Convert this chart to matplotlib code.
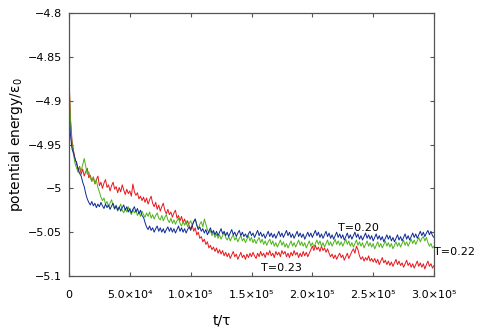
import numpy as np
import matplotlib
matplotlib.use("Agg")
import matplotlib.pyplot as plt

# potential energy traces (one value every 1250 tau)
red_T023 = [
    -4.872, -4.921, -4.946, -4.957, -4.968, -4.970, -4.979, -4.975, -4.984, -4.978,
    -4.986, -4.981, -4.977, -4.988, -4.985, -4.992, -4.987, -4.995, -4.990, -4.986,
    -4.997, -4.993, -5.000, -4.994, -4.990, -4.999, -4.996, -5.003, -4.997, -4.993,
    -5.001, -4.998, -5.005, -4.999, -5.004, -4.996, -5.002, -5.007, -5.001, -5.006,
    -5.003, -5.009, -4.995, -5.004, -5.008, -5.005, -5.012, -5.009, -5.014, -5.010,
    -5.016, -5.011, -5.018, -5.013, -5.009, -5.017, -5.021, -5.016, -5.024, -5.019,
    -5.026, -5.021, -5.017, -5.025, -5.029, -5.024, -5.030, -5.027, -5.033, -5.028,
    -5.025, -5.034, -5.031, -5.037, -5.032, -5.039, -5.035, -5.041, -5.037, -5.043,
    -5.046, -5.042, -5.049, -5.045, -5.053, -5.050, -5.057, -5.055, -5.061, -5.058,
    -5.064, -5.061, -5.068, -5.065, -5.070, -5.067, -5.072, -5.068, -5.074, -5.070,
    -5.075, -5.071, -5.077, -5.073, -5.078, -5.074, -5.080, -5.076, -5.072, -5.078,
    -5.075, -5.081, -5.077, -5.073, -5.079, -5.076, -5.081, -5.075, -5.079, -5.074,
    -5.078, -5.073, -5.077, -5.080, -5.074, -5.078, -5.072, -5.077, -5.074, -5.079,
    -5.073, -5.076, -5.071, -5.077, -5.074, -5.079, -5.072, -5.076, -5.073, -5.078,
    -5.071, -5.075, -5.072, -5.078, -5.074, -5.079, -5.073, -5.077, -5.071, -5.076,
    -5.073, -5.079, -5.074, -5.078, -5.072, -5.077, -5.073, -5.078, -5.074, -5.070,
    -5.066, -5.071, -5.065, -5.070, -5.067, -5.072, -5.066, -5.071, -5.068, -5.073,
    -5.069, -5.074, -5.078, -5.075, -5.080, -5.076, -5.081, -5.077, -5.074, -5.079,
    -5.076, -5.082, -5.078, -5.074, -5.080, -5.076, -5.072, -5.069, -5.074, -5.066,
    -5.070, -5.077, -5.081, -5.078, -5.083, -5.079, -5.082, -5.077, -5.083, -5.080,
    -5.084, -5.080, -5.085, -5.081, -5.087, -5.083, -5.079, -5.085, -5.082, -5.087,
    -5.083, -5.088, -5.084, -5.089, -5.085, -5.081, -5.087, -5.083, -5.088, -5.085,
    -5.090, -5.086, -5.082, -5.088, -5.085, -5.090, -5.086, -5.091, -5.087, -5.083,
    -5.089, -5.085, -5.090, -5.086, -5.092, -5.087, -5.083, -5.089, -5.086, -5.091,
    -5.088,
]
green_T022 = [
    -4.878, -4.925, -4.950, -4.962, -4.972, -4.977, -4.982, -4.976, -4.980, -4.973,
    -4.966, -4.975, -4.984, -4.981, -4.988, -4.992, -4.987, -4.995, -4.991, -4.999,
    -5.004, -5.010, -5.014, -5.011, -5.018, -5.015, -5.021, -5.017, -5.013, -5.020,
    -5.024, -5.019, -5.026, -5.022, -5.018, -5.025, -5.028, -5.023, -5.027, -5.021,
    -5.026, -5.030, -5.024, -5.028, -5.025, -5.031, -5.027, -5.032, -5.026, -5.030,
    -5.033, -5.028, -5.032, -5.027, -5.034, -5.030, -5.035, -5.031, -5.028, -5.034,
    -5.036, -5.031, -5.037, -5.033, -5.030, -5.036, -5.039, -5.034, -5.040, -5.036,
    -5.041, -5.037, -5.034, -5.040, -5.043, -5.038, -5.042, -5.037, -5.044, -5.040,
    -5.037, -5.042, -5.038, -5.035, -5.041, -5.046, -5.041, -5.038, -5.044, -5.035,
    -5.041, -5.047, -5.051, -5.048, -5.054, -5.050, -5.056, -5.052, -5.057, -5.053,
    -5.058, -5.054, -5.050, -5.056, -5.059, -5.055, -5.060, -5.056, -5.053, -5.059,
    -5.056, -5.061, -5.057, -5.054, -5.060, -5.057, -5.062, -5.058, -5.054, -5.060,
    -5.056, -5.062, -5.058, -5.063, -5.059, -5.056, -5.062, -5.058, -5.064, -5.060,
    -5.065, -5.061, -5.058, -5.064, -5.060, -5.066, -5.062, -5.067, -5.063, -5.059,
    -5.065, -5.061, -5.067, -5.063, -5.068, -5.064, -5.060, -5.066, -5.062, -5.067,
    -5.063, -5.059, -5.065, -5.061, -5.066, -5.062, -5.068, -5.064, -5.060, -5.066,
    -5.062, -5.067, -5.063, -5.059, -5.064, -5.060, -5.066, -5.062, -5.067, -5.063,
    -5.059, -5.065, -5.061, -5.066, -5.062, -5.058, -5.064, -5.060, -5.065, -5.061,
    -5.066, -5.062, -5.058, -5.064, -5.060, -5.066, -5.062, -5.067, -5.063, -5.059,
    -5.065, -5.061, -5.066, -5.062, -5.068, -5.064, -5.060, -5.066, -5.062, -5.067,
    -5.063, -5.069, -5.065, -5.061, -5.067, -5.063, -5.068, -5.064, -5.060, -5.066,
    -5.062, -5.067, -5.063, -5.069, -5.065, -5.061, -5.066, -5.062, -5.067, -5.063,
    -5.059, -5.065, -5.061, -5.066, -5.062, -5.058, -5.063, -5.059, -5.064, -5.060,
    -5.056, -5.061, -5.057, -5.055, -5.060, -5.056, -5.062, -5.066, -5.063, -5.068,
    -5.066,
]
blue_T020 = [
    -4.912, -4.940, -4.955, -4.960, -4.966, -4.972, -4.978, -4.983, -4.986, -4.993,
    -4.998, -5.006, -5.012, -5.016, -5.019, -5.015, -5.020, -5.017, -5.022, -5.018,
    -5.021, -5.016, -5.020, -5.023, -5.018, -5.022, -5.019, -5.024, -5.020, -5.017,
    -5.023, -5.020, -5.025, -5.021, -5.026, -5.022, -5.019, -5.025, -5.021, -5.027,
    -5.023, -5.028, -5.024, -5.021, -5.027, -5.023, -5.029, -5.025, -5.031, -5.033,
    -5.039, -5.044, -5.047, -5.043, -5.048, -5.045, -5.050, -5.046, -5.043, -5.049,
    -5.045, -5.050, -5.046, -5.051, -5.047, -5.044, -5.049, -5.045, -5.050, -5.046,
    -5.051, -5.047, -5.043, -5.049, -5.045, -5.050, -5.046, -5.051, -5.047, -5.044,
    -5.048, -5.043, -5.038, -5.035, -5.042, -5.047, -5.044, -5.049, -5.046, -5.051,
    -5.047, -5.053, -5.049, -5.045, -5.051, -5.048, -5.053, -5.049, -5.054, -5.050,
    -5.046, -5.052, -5.049, -5.054, -5.050, -5.055, -5.051, -5.047, -5.053, -5.050,
    -5.055, -5.051, -5.048, -5.054, -5.050, -5.055, -5.052, -5.056, -5.052, -5.049,
    -5.054, -5.051, -5.056, -5.052, -5.048, -5.054, -5.050, -5.055, -5.052, -5.057,
    -5.053, -5.049, -5.055, -5.051, -5.056, -5.052, -5.057, -5.053, -5.049, -5.055,
    -5.051, -5.056, -5.052, -5.048, -5.054, -5.050, -5.056, -5.052, -5.057, -5.053,
    -5.049, -5.055, -5.051, -5.056, -5.052, -5.058, -5.054, -5.050, -5.055, -5.051,
    -5.056, -5.052, -5.048, -5.054, -5.050, -5.056, -5.052, -5.057, -5.053, -5.049,
    -5.055, -5.051, -5.057, -5.053, -5.058, -5.054, -5.050, -5.056, -5.052, -5.057,
    -5.053, -5.059, -5.055, -5.051, -5.057, -5.053, -5.058, -5.054, -5.050, -5.056,
    -5.052, -5.058, -5.054, -5.059, -5.055, -5.051, -5.057, -5.053, -5.058, -5.054,
    -5.060, -5.056, -5.052, -5.058, -5.054, -5.059, -5.055, -5.061, -5.057, -5.053,
    -5.058, -5.054, -5.060, -5.056, -5.061, -5.057, -5.053, -5.059, -5.055, -5.060,
    -5.056, -5.052, -5.058, -5.054, -5.059, -5.055, -5.051, -5.056, -5.052, -5.057,
    -5.053, -5.049, -5.054, -5.050, -5.055, -5.051, -5.048, -5.053, -5.049, -5.054,
    -5.056,
]
t_end = 3.0e5

x_ticks = [0, 5e4, 1e5, 1.5e5, 2e5, 2.5e5, 3e5]
x_ticklabels = ["0", "5.0×10⁴", "1.0×10⁵", "1.5×10⁵", "2.0×10⁵", "2.5×10⁵", "3.0×10⁵"]
y_ticks = [-4.8, -4.85, -4.9, -4.95, -5.0, -5.05, -5.1]
y_ticklabels = ["−4.8", "−4.85", "−4.9", "−4.95", "−5", "−5.05", "−5.1"]

t = np.linspace(0, t_end, len(red_T023))

fig = plt.figure(figsize=(4.83, 3.30), dpi=100)
# axes box: x 69..434 px, y 13..276 px
ax = fig.add_axes([69 / 483, 1 - 276 / 330, 365 / 483, 263 / 330])

ax.plot(t, red_T023, color="#e8161b", lw=0.7)
ax.plot(t, green_T022, color="#4cb318", lw=0.7)
ax.plot(t, blue_T020, color="#0c2a94", lw=0.7)

ax.set_xlim(0, t_end)
ax.set_ylim(-5.1, -4.8)
ax.set_xticks(x_ticks)
ax.set_xticklabels(x_ticklabels)
ax.set_yticks(y_ticks)
ax.set_yticklabels(y_ticklabels)
ax.tick_params(direction="in", length=3, width=0.8, top=True, right=True,
               labelsize=8, colors="#555555", labelcolor="black")
ax.tick_params(axis="x", pad=10)
ax.tick_params(axis="y", pad=5)
for s in ax.spines.values():
    s.set_color("#555555")
    s.set_linewidth(0.9)

ax.text(238000, -5.0452, "T=0.20", fontsize=8, ha="center", va="center")
ax.text(317000, -5.0726, "T=0.22", fontsize=8, ha="center", va="center", clip_on=False)
ax.text(175000, -5.0909, "T=0.23", fontsize=8, ha="center", va="center")

fig.text(222 / 483, 1 - 320 / 330, "t/τ", fontsize=10, ha="center", va="center")
fig.text(16 / 483, 1 - 145 / 330, "potential energy/ε$_0$", fontsize=10,
         rotation=90, ha="center", va="center")

fig.savefig("out.png", dpi=100)
